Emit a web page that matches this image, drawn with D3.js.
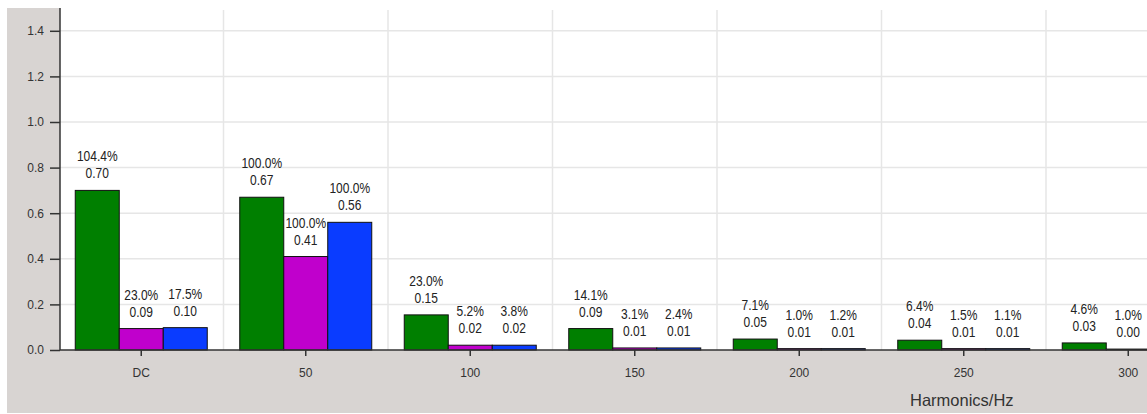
<!DOCTYPE html>
<html>
<head>
<meta charset="utf-8">
<script src="https://cdn.jsdelivr.net/npm/d3@7/dist/d3.min.js"></script>
<style>
  html, body { margin: 0; padding: 0; background: #fff; }
  svg { display: block; font-family: "Liberation Sans", Arial, sans-serif; }
</style>
</head>
<body>
<svg id="chart" width="1147" height="414"></svg>
<script>
// Harmonic orders shown on the x axis
const categories = ["DC", "50", "100", "150", "200", "250", "300"];
const seriesNames = ["A", "B", "C"];
const seriesColors = ["#007f00", "#c000cc", "#0a3cff"];

// RMS amplitude per harmonic for each series
const valuesA = [0.70, 0.67, 0.154, 0.094, 0.048, 0.043, 0.031];
const valuesB = [0.094, 0.41, 0.021, 0.009, 0.006, 0.006, 0.004];
const valuesC = [0.098, 0.56, 0.021, 0.009, 0.006, 0.006, null];

// Percentage of the fundamental, as printed above each bar
const pctA = ["104.4%", "100.0%", "23.0%", "14.1%", "7.1%", "6.4%", "4.6%"];
const pctB = ["23.0%", "100.0%", "5.2%", "3.1%", "1.0%", "1.5%", "1.0%"];
const pctC = ["17.5%", "100.0%", "3.8%", "2.4%", "1.2%", "1.1%", null];

const yTicks = [0.0, 0.2, 0.4, 0.6, 0.8, 1.0, 1.2, 1.4];
const xTitle = "Harmonics/Hz";

const seriesValues = [valuesA, valuesB, valuesC];
const seriesPct = [pctA, pctB, pctC];

const svg = d3.select("#chart");
const W = 1147, H = 414;
const plotLeft = 60, plotBottom = 350, plotTop = 8;

// Frame: grey panel with the white plotting area on top
svg.append("rect").attr("x", 0).attr("y", 0).attr("width", W).attr("height", H).attr("fill", "#fff");
svg.append("rect").attr("x", 7).attr("y", 8).attr("width", W - 7).attr("height", 405).attr("fill", "#d8d4d2");
svg.append("rect").attr("x", plotLeft).attr("y", 0).attr("width", W - plotLeft).attr("height", plotBottom).attr("fill", "#fff");

const bandW = 164.5;
const x = d3.scaleBand().domain(categories).range([59, 59 + bandW * categories.length]).padding(0);
const x1 = d3.scaleBand().domain(seriesNames).range([16.25, x.bandwidth() - 16.25]).padding(0);
const y = d3.scaleLinear().domain([0, 1.5]).range([plotBottom, plotTop]);

// Grid
const grid = svg.append("g");
grid.selectAll(".hg").data(yTicks.filter(d => d > 0)).join("line")
  .attr("x1", plotLeft).attr("x2", W)
  .attr("y1", d => y(d)).attr("y2", d => y(d))
  .attr("stroke", "#e6e6e6").attr("stroke-width", 1.5);
grid.selectAll(".vg").data(categories.slice(1)).join("line")
  .attr("x1", d => x(d)).attr("x2", d => x(d))
  .attr("y1", 10).attr("y2", plotBottom)
  .attr("stroke", "#e6e6e6").attr("stroke-width", 1.5);

// Bars
const rows = [];
categories.forEach((c, i) => {
  seriesNames.forEach((s, k) => {
    const v = seriesValues[k][i];
    if (v !== null && v !== undefined) rows.push({ c, s, k, v, pct: seriesPct[k][i] });
  });
});

const bars = svg.append("g");
bars.selectAll("rect").data(rows).join("rect")
  .attr("x", d => x(d.c) + x1(d.s))
  .attr("y", d => y(d.v))
  .attr("width", x1.bandwidth())
  .attr("height", d => y(0) - y(d.v))
  .attr("fill", d => seriesColors[d.k])
  .attr("stroke", "#111").attr("stroke-width", 1);

// Value labels: percentage line over amplitude line
const labels = svg.append("g").attr("font-size", 12).attr("fill", "#222").attr("text-anchor", "middle");
rows.forEach(d => {
  const cx = x(d.c) + x1(d.s) + x1.bandwidth() / 2;
  labels.append("text")
    .attr("transform", `translate(${cx},${y(d.v) - 29}) scale(1,1.15)`)
    .text(d.pct);
  labels.append("text")
    .attr("transform", `translate(${cx},${y(d.v) - 12}) scale(1,1.15)`)
    .text(d.v.toFixed(2));
});

// Axes
const yAxis = svg.append("g").attr("transform", `translate(${plotLeft},0)`)
  .call(d3.axisLeft(y).tickValues(yTicks).tickFormat(d3.format(".1f")).tickSize(10).tickPadding(6));
yAxis.select(".domain").attr("d", `M0,${plotTop}V${plotBottom}`).attr("stroke", "#333").attr("stroke-width", 1.5);
yAxis.selectAll(".tick line").attr("stroke", "#333").attr("stroke-width", 1.5);
yAxis.selectAll(".tick text").attr("font-size", 12).attr("fill", "#333")
  .attr("font-family", "'Liberation Sans', Arial, sans-serif");

const xAxis = svg.append("g").attr("transform", `translate(0,${plotBottom})`)
  .call(d3.axisBottom(x).tickSize(6).tickPadding(12));
xAxis.select(".domain").attr("d", `M${plotLeft},0H${W}`).attr("stroke", "#333").attr("stroke-width", 1.5);
xAxis.selectAll(".tick line").attr("stroke", "#333").attr("stroke-width", 1.5);
xAxis.selectAll(".tick text").attr("font-size", 12).attr("fill", "#333")
  .attr("font-family", "'Liberation Sans', Arial, sans-serif");

svg.append("text")
  .attr("x", 910).attr("y", 406)
  .attr("font-size", 16.5).attr("fill", "#333")
  .text(xTitle);
</script>
</body>
</html>
